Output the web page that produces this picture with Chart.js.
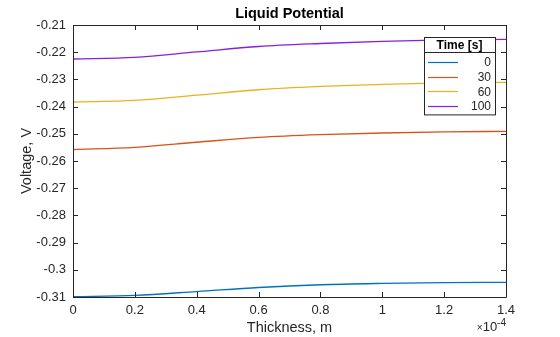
<!DOCTYPE html>
<html>
<head>
<meta charset="utf-8">
<script src="https://cdn.jsdelivr.net/npm/chart.js@4/dist/chart.umd.min.js"></script>
<style>
  html, body { margin: 0; padding: 0; background: #fff; }
  #wrap { width: 560px; height: 337px; }
</style>
</head>
<body>
<div id="wrap"><canvas id="c" width="560" height="337"></canvas></div>
<script>
// Thickness positions (m) and liquid potential (V) at each time
const thickness = [0, 0.2e-4, 0.4e-4, 0.6e-4, 0.8e-4, 1.0e-4, 1.2e-4, 1.4e-4];
const timeLabels = ['0', '30', '60', '100'];
const v0   = [-0.3099, -0.3094, -0.3080, -0.3065, -0.3055, -0.3050, -0.3047, -0.3046];
const v30  = [-0.2558, -0.2550, -0.2531, -0.2513, -0.2503, -0.2497, -0.2493, -0.2491];
const v60  = [-0.2383, -0.2377, -0.2358, -0.2338, -0.2326, -0.2318, -0.2313, -0.2311];
const v100 = [-0.2225, -0.2219, -0.2199, -0.2179, -0.2168, -0.2160, -0.2155, -0.2153];
const series = [v0, v30, v60, v100];
const colors = ['#0072BD', '#D95319', '#EDB120', '#8A1DE3'];
const yTicks = [-0.31, -0.30, -0.29, -0.28, -0.27, -0.26, -0.25, -0.24, -0.23, -0.22, -0.21];

const axisColor = '#262626';
const fontFamily = '"Liberation Sans", Arial, Helvetica, sans-serif';

// Box outline with inward tick marks on all four sides
const boxPlugin = {
  id: 'box',
  afterDatasetsDraw(chart) {
    const { ctx, chartArea: a, scales } = chart;
    ctx.save();
    ctx.strokeStyle = axisColor;
    ctx.lineWidth = 1;
    ctx.beginPath();
    ctx.rect(Math.round(a.left) + 0.5, Math.round(a.top) + 0.5,
             Math.round(a.right - a.left), Math.round(a.bottom - a.top));
    ctx.stroke();
    const len = 5;
    ctx.beginPath();
    scales.x.ticks.forEach(t => {
      const px = Math.round(scales.x.getPixelForValue(t.value)) + 0.5;
      ctx.moveTo(px, a.bottom); ctx.lineTo(px, a.bottom - len);
      ctx.moveTo(px, a.top); ctx.lineTo(px, a.top + len);
    });
    scales.y.ticks.forEach(t => {
      const py = Math.round(scales.y.getPixelForValue(t.value)) + 0.5;
      ctx.moveTo(a.left, py); ctx.lineTo(a.left + len, py);
      ctx.moveTo(a.right, py); ctx.lineTo(a.right - len, py);
    });
    ctx.stroke();

    // title
    ctx.fillStyle = '#000';
    ctx.font = 'bold 14.5px ' + fontFamily;
    ctx.textAlign = 'center';
    ctx.textBaseline = 'middle';
    ctx.fillText('Liquid Potential', (a.left + a.right) / 2, 14);

    // x exponent (x10^-4)
    ctx.fillStyle = axisColor;
    ctx.textAlign = 'right';
    ctx.textBaseline = 'alphabetic';
    ctx.font = '10px ' + fontFamily;
    const ex = a.right;
    ctx.fillText('-4', ex, 326);
    const w = ctx.measureText('-4').width;
    ctx.font = '13px ' + fontFamily;
    ctx.fillText('10', ex - w, 331);
    const w2 = ctx.measureText('10').width;
    ctx.font = '10px ' + fontFamily;
    ctx.fillText('\u00d7', ex - w - w2, 331);
    ctx.restore();
  }
};

// Legend box with title row, line samples and right-aligned labels
const legendPlugin = {
  id: 'boxLegend',
  afterDraw(chart) {
    const { ctx, chartArea: a } = chart;
    const right = a.right - 11, top = a.top + 12;
    const width = 71, titleH = 15, rowH = 14.6;
    const height = titleH + rowH * chart.data.datasets.length + 4;
    const left = right - width;
    ctx.save();
    ctx.fillStyle = '#fff';
    ctx.fillRect(left, top, width, height);
    ctx.strokeStyle = axisColor;
    ctx.lineWidth = 1;
    ctx.strokeRect(left + 0.5, top + 0.5, width, height);
    ctx.beginPath();
    ctx.moveTo(left, top + titleH + 0.5);
    ctx.lineTo(right, top + titleH + 0.5);
    ctx.stroke();
    ctx.fillStyle = '#000';
    ctx.font = 'bold 12px ' + fontFamily;
    ctx.textAlign = 'center';
    ctx.textBaseline = 'middle';
    ctx.fillText('Time [s]', left + width / 2, top + titleH / 2 + 1);
    ctx.font = '12px ' + fontFamily;
    ctx.textAlign = 'right';
    chart.data.datasets.forEach((ds, i) => {
      const y = top + titleH + 10 + i * rowH;
      ctx.strokeStyle = ds.borderColor;
      ctx.lineWidth = 1.2;
      ctx.beginPath();
      ctx.moveTo(left + 4, Math.round(y) + 0.5);
      ctx.lineTo(left + 34, Math.round(y) + 0.5);
      ctx.stroke();
      ctx.fillStyle = axisColor;
      ctx.fillText(ds.label, right - 4, y + 1);
    });
    ctx.restore();
  }
};

new Chart(document.getElementById('c'), {
  type: 'line',
  data: {
    datasets: series.map((vals, i) => ({
      label: timeLabels[i],
      data: thickness.map((x, j) => ({ x, y: vals[j] })),
      borderColor: colors[i],
      borderWidth: 1.3,
      pointRadius: 0,
      fill: false,
      cubicInterpolationMode: 'monotone'
    }))
  },
  options: {
    responsive: false,
    animation: false,
    layout: { padding: { top: 25, right: 54, left: 0, bottom: 0 } },
    plugins: { legend: { display: false }, title: { display: false }, tooltip: { enabled: false } },
    scales: {
      x: {
        type: 'linear',
        min: 0, max: 1.4e-4,
        grid: { display: false, drawTicks: false },
        border: { display: false },
        afterFit(s) { s.height = 40; },
        afterBuildTicks(s) { s.ticks = thickness.map(v => ({ value: v })); },
        ticks: {
          color: axisColor,
          font: { family: fontFamily, size: 13 },
          padding: 6,
          maxRotation: 0,
          callback: v => String(Math.round(v * 1e5) / 10)
        },
        title: {
          display: true, text: 'Thickness, m', color: axisColor,
          font: { family: fontFamily, size: 14.5 }, padding: { top: 0, bottom: 0 }
        }
      },
      y: {
        type: 'linear',
        min: -0.31, max: -0.21,
        grid: { display: false, drawTicks: false },
        border: { display: false },
        afterFit(s) { s.width = 73; },
        afterBuildTicks(s) { s.ticks = yTicks.map(v => ({ value: v })); },
        ticks: {
          color: axisColor,
          font: { family: fontFamily, size: 13 },
          padding: 7,
          callback: v => {
            const s = (Math.round(v * 100) / 100).toFixed(2);
            return s.replace(/0$/, '');
          }
        },
        title: {
          display: true, text: 'Voltage, V', color: axisColor,
          font: { family: fontFamily, size: 14.5 }, padding: { top: 18, bottom: 0 }
        }
      }
    }
  },
  plugins: [boxPlugin, legendPlugin]
});
</script>
</body>
</html>
